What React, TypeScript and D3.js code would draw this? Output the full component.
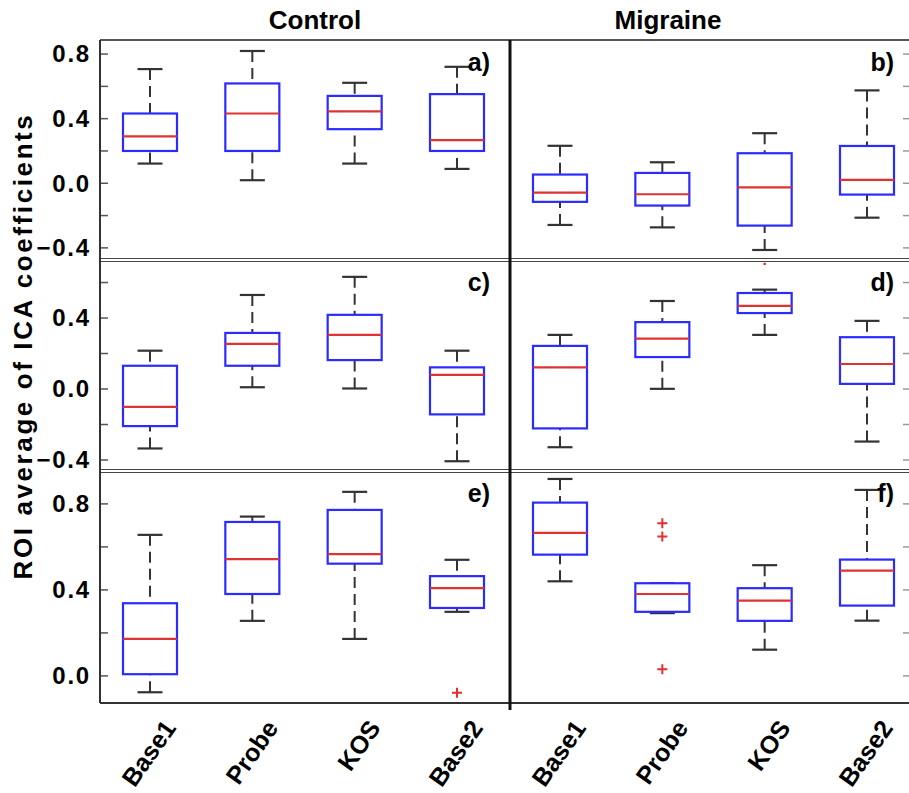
import * as d3 from "d3";

const categories = ["Base1", "Probe", "KOS", "Base2"];
const groups = ["Control", "Migraine"];
const letters = ["a)", "b)", "c)", "d)", "e)", "f)"];

// each box: [lower whisker, q1, median, q3, upper whisker]
const boxesA = [
  [0.122, 0.2, 0.29, 0.432, 0.707],
  [0.019, 0.2, 0.432, 0.618, 0.819],
  [0.122, 0.335, 0.445, 0.541, 0.622],
  [0.089, 0.2, 0.267, 0.552, 0.721],
];
const boxesB = [
  [-0.258, -0.115, -0.058, 0.054, 0.232],
  [-0.273, -0.138, -0.068, 0.064, 0.13],
  [-0.413, -0.262, -0.025, 0.186, 0.31],
  [-0.213, -0.07, 0.021, 0.231, 0.575],
];
const boxesC = [
  [-0.335, -0.209, -0.101, 0.131, 0.216],
  [0.01, 0.131, 0.254, 0.316, 0.53],
  [0.003, 0.163, 0.305, 0.418, 0.632],
  [-0.407, -0.143, 0.08, 0.122, 0.216],
];
const boxesD = [
  [-0.328, -0.222, 0.122, 0.243, 0.305],
  [0.001, 0.18, 0.284, 0.377, 0.496],
  [0.305, 0.428, 0.469, 0.541, 0.56],
  [-0.296, 0.029, 0.141, 0.292, 0.384],
];
const boxesE = [
  [-0.076, 0.008, 0.172, 0.338, 0.656],
  [0.256, 0.381, 0.543, 0.716, 0.741],
  [0.172, 0.522, 0.566, 0.772, 0.856],
  [0.298, 0.316, 0.408, 0.464, 0.54],
];
const boxesF = [
  [0.44, 0.564, 0.665, 0.806, 0.916],
  [0.292, 0.298, 0.381, 0.431, 0.431],
  [0.122, 0.256, 0.35, 0.408, 0.515],
  [0.257, 0.327, 0.49, 0.541, 0.865],
];

// outliers: [category, value]
const outliersD: [string, number][] = [["KOS", 0.705]];
const outliersE: [string, number][] = [["Base2", -0.078]];
const outliersF: [string, number][] = [
  ["Probe", 0.71],
  ["Probe", 0.648],
  ["Probe", 0.031],
];

const rowDomains = [
  [-0.475, 0.887],
  [-0.462, 0.727],
  [-0.126, 0.953],
];
const rowTicks = [
  [-0.4, -0.2, 0, 0.2, 0.4, 0.6, 0.8],
  [-0.4, -0.2, 0, 0.2, 0.4, 0.6],
  [0, 0.2, 0.4, 0.6, 0.8],
];
const labelledTicks = [
  [-0.4, 0, 0.4, 0.8],
  [-0.4, 0, 0.4],
  [0, 0.4, 0.8],
];

const panels = [
  { boxes: boxesA, outliers: [] as [string, number][] },
  { boxes: boxesB, outliers: [] as [string, number][] },
  { boxes: boxesC, outliers: [] as [string, number][] },
  { boxes: boxesD, outliers: outliersD },
  { boxes: boxesE, outliers: outliersE },
  { boxes: boxesF, outliers: outliersF },
];

const W = 909;
const H = 793;
const rowEdges = [40, 260, 471, 703];
const colX = [100, 510];
const boxW = 54;
const capW = 25;
const font = "'Liberation Sans', Arial, sans-serif";
const fmt = d3.format(".1f");

export default function App() {
  const yScales = rowDomains.map((dom, r) =>
    d3.scaleLinear().domain(dom).range([rowEdges[r + 1], rowEdges[r]])
  );
  const xScales = colX.map((x0) =>
    d3.scalePoint().domain(categories).range([x0 + 50, x0 + 357])
  );

  return (
    <svg
      width={W}
      height={H}
      style={{ position: "absolute", left: 0, top: 0, background: "#fff" }}
      fontFamily={font}
    >
      {/* group titles */}
      {groups.map((g, i) => (
        <text key={g} x={[315, 668][i]} y={29} textAnchor="middle" fontSize={26} fontWeight="bold">
          {g}
        </text>
      ))}

      {/* y title */}
      <text
        transform="translate(32,346) rotate(-90)"
        textAnchor="middle"
        fontSize={26}
        fontWeight="bold"
        letterSpacing={2.6}
      >
        ROI average of ICA coefficients
      </text>

      {panels.map((p, i) => {
        const row = Math.floor(i / 2);
        const col = i % 2;
        const y = yScales[row];
        const x = xScales[col];
        const x0 = colX[col];
        return (
          <g key={i}>
            {col === 0 &&
              rowTicks[row].map((t) => (
                <line key={"t" + t} x1={x0} x2={x0 + 8} y1={y(t)} y2={y(t)} stroke="#555" strokeWidth={1.5} />
              ))}
            {col === 0 &&
              labelledTicks[row].map((t) => (
                <text
                  key={"l" + t}
                  x={91}
                  y={y(t)}
                  dy="0.35em"
                  textAnchor="end"
                  fontSize={24}
                  fontWeight="bold"
                  letterSpacing={1.8}
                >
                  {fmt(t)}
                </text>
              ))}
            {col === 1 &&
              rowTicks[row].map((t) => (
                <line key={"r" + t} x1={903} x2={909} y1={y(t)} y2={y(t)} stroke="#999" strokeWidth={1.5} />
              ))}

            {p.boxes.map((b, j) => {
              const cx = x(categories[j])!;
              const [lo, q1, med, q3, hi] = b;
              return (
                <g key={j}>
                  <line x1={cx} x2={cx} y1={y(hi)} y2={y(q3)} stroke="#333" strokeWidth={2} strokeDasharray="11,6" />
                  <line x1={cx} x2={cx} y1={y(lo)} y2={y(q1)} stroke="#333" strokeWidth={2} strokeDasharray="11,6" />
                  <line x1={cx - capW / 2} x2={cx + capW / 2} y1={y(hi)} y2={y(hi)} stroke="#333" strokeWidth={2.2} />
                  <line x1={cx - capW / 2} x2={cx + capW / 2} y1={y(lo)} y2={y(lo)} stroke="#333" strokeWidth={2.2} />
                  <rect
                    x={cx - boxW / 2}
                    y={y(q3)}
                    width={boxW}
                    height={y(q1) - y(q3)}
                    fill="#fff"
                    stroke="#2b2bff"
                    strokeWidth={2.2}
                  />
                  <line x1={cx - boxW / 2} x2={cx + boxW / 2} y1={y(med)} y2={y(med)} stroke="#dd3333" strokeWidth={2.2} />
                </g>
              );
            })}

            {p.outliers.map(([c, v], k) => {
              const cx = x(c)!;
              const s = i === 3 ? 1.2 : 5;
              return (
                <path
                  key={"o" + k}
                  d={`M${cx - s},${y(v)}H${cx + s}M${cx},${y(v) - s}V${y(v) + s}`}
                  stroke="#e03030"
                  strokeWidth={2}
                />
              );
            })}

            <text
              x={x0 + (col === 0 ? 390 : 384)}
              y={rowEdges[row] + 31}
              textAnchor="end"
              fontSize={25}
              fontWeight="bold"
            >
              {letters[i]}
            </text>
          </g>
        );
      })}

      {/* frame */}
      <line x1={100} x2={W} y1={40} y2={40} stroke="#555" strokeWidth={2} />
      {[260, 471].map((yy) => (
        <g key={yy}>
          <line x1={100} x2={W} y1={yy - 1.5} y2={yy - 1.5} stroke="#444" strokeWidth={1} />
          <line x1={100} x2={W} y1={yy + 1.5} y2={yy + 1.5} stroke="#444" strokeWidth={1} />
        </g>
      ))}
      <line x1={100} x2={W} y1={703} y2={703} stroke="#333" strokeWidth={2} />
      <line x1={100} x2={100} y1={40} y2={703} stroke="#333" strokeWidth={2} />
      <line x1={510} x2={510} y1={40} y2={710} stroke="#111" strokeWidth={3} />

      {/* category labels */}
      {colX.map((_, col) =>
        categories.map((c) => {
          const px = xScales[col](c)! + 27;
          return (
            <text
              key={col + c}
              transform={`translate(${px},728) rotate(-55)`}
              textAnchor="end"
              fontSize={25}
              fontWeight="bold"
            >
              {c}
            </text>
          );
        })
      )}
    </svg>
  );
}
